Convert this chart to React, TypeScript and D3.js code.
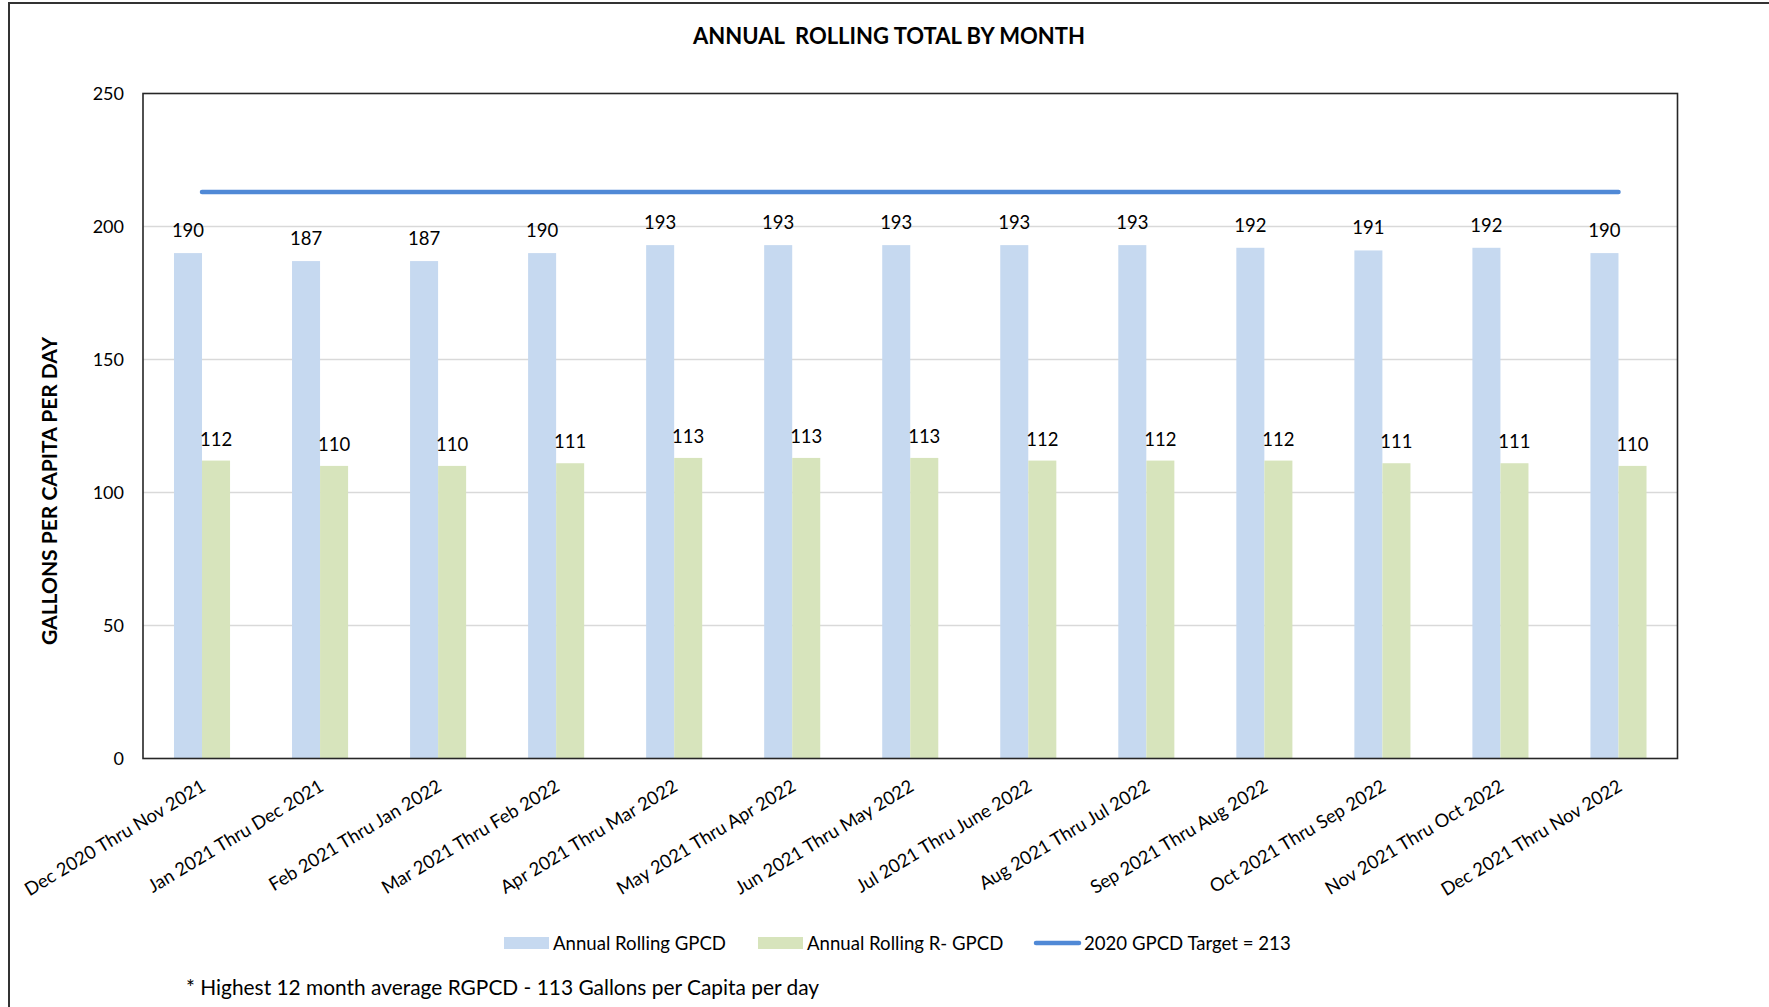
import * as d3 from 'd3';

const categories = [
  'Dec 2020 Thru Nov 2021',
  'Jan 2021 Thru Dec 2021',
  'Feb 2021 Thru Jan 2022',
  'Mar 2021 Thru Feb 2022',
  'Apr 2021 Thru Mar 2022',
  'May 2021 Thru Apr 2022',
  'Jun 2021 Thru May 2022',
  'Jul 2021 Thru June 2022',
  'Aug 2021 Thru Jul 2022',
  'Sep 2021 Thru Aug 2022',
  'Oct 2021 Thru Sep 2022',
  'Nov 2021 Thru Oct 2022',
  'Dec 2021 Thru Nov 2022',
];
const gpcd = [190, 187, 187, 190, 193, 193, 193, 193, 193, 192, 191, 192, 190];
const rGpcd = [112, 110, 110, 111, 113, 113, 113, 112, 112, 112, 111, 111, 110];
const target = 213;
const yTicks = [0, 50, 100, 150, 200, 250];
const seriesNames = ['Annual Rolling GPCD', 'Annual Rolling R- GPCD', '2020 GPCD Target = 213'];

const W = 1769;
const H = 1007;
const plot = { left: 143, top: 93.5, right: 1677.5, bottom: 758.5 };
const font = 'Lato, "Open Sans", sans-serif';
const blue = '#C6D9F0';
const green = '#D7E4BC';
const lineBlue = '#5089D6';

function App() {
  const x = d3
    .scaleBand()
    .domain(categories)
    .range([plot.left, plot.right])
    .paddingInner(0.525)
    .paddingOuter(0.2625);
  const bw = x.bandwidth() / 2;
  const y = d3.scaleLinear().domain([0, 250]).range([plot.bottom, plot.top]);

  const targetLine = d3
    .line<string>()
    .x((d) => (x(d) as number) + bw)
    .y(() => y(target));

  return (
    <svg width={W} height={H} style={{ position: 'absolute', left: 0, top: 0, background: '#fff' }} fontFamily={font}>
      <rect x={0} y={0} width={W} height={H} fill="#fff" />
      <rect x={9} y={3} width={W + 50} height={H + 50} fill="none" stroke="#333" strokeWidth={2} />

      <text x={889} y={43.5} textAnchor="middle" fontWeight="bold" fontSize={22} style={{ whiteSpace: 'pre' }}>
        {'ANNUAL  ROLLING TOTAL BY MONTH'}
      </text>

      {yTicks.slice(1, -1).map((t) => (
        <line key={t} x1={plot.left} x2={plot.right} y1={y(t)} y2={y(t)} stroke="#D9D9D9" strokeWidth={1.5} />
      ))}

      {yTicks.map((t) => (
        <text key={t} x={124} y={y(t) + 6.5} textAnchor="end" fontSize={18}>
          {t}
        </text>
      ))}

      <text
        transform={`translate(57,491) rotate(-90)`}
        textAnchor="middle"
        fontWeight="bold"
        fontSize={21}
      >
        GALLONS PER CAPITA PER DAY
      </text>

      {categories.map((c, i) => {
        const x0 = x(c) as number;
        return (
          <g key={c}>
            <rect x={x0} y={y(gpcd[i])} width={bw} height={y(0) - y(gpcd[i])} fill={blue} />
            <rect x={x0 + bw} y={y(rGpcd[i])} width={bw} height={y(0) - y(rGpcd[i])} fill={green} />
            <text x={x0 + bw / 2} y={y(gpcd[i]) - 16} textAnchor="middle" fontSize={18.5}>
              {gpcd[i]}
            </text>
            <text x={x0 + bw * 1.5} y={y(rGpcd[i]) - 15} textAnchor="middle" fontSize={18.5}>
              {rGpcd[i]}
            </text>
            <text
              transform={`translate(${x0 + bw - 2},${plot.bottom + 20}) rotate(-31)`}
              textAnchor="end"
              dy="0.72em"
              fontSize={18.4}
            >
              {c}
            </text>
          </g>
        );
      })}

      <path d={targetLine([categories[0], categories[categories.length - 1]]) ?? ''} stroke={lineBlue} strokeWidth={4.5} strokeLinecap="round" fill="none" />

      <rect
        x={plot.left}
        y={plot.top}
        width={plot.right - plot.left}
        height={plot.bottom - plot.top}
        fill="none"
        stroke="#262626"
        strokeWidth={1.6}
      />

      <g fontSize={18.6}>
        <rect x={504} y={937} width={45} height={12} fill={blue} />
        <text x={553} y={949.5}>{seriesNames[0]}</text>
        <rect x={758} y={937} width={45} height={12} fill={green} />
        <text x={807} y={949.5}>{seriesNames[1]}</text>
        <line x1={1036} x2={1079} y1={943} y2={943} stroke={lineBlue} strokeWidth={4.5} strokeLinecap="round" />
        <text x={1084} y={949.5}>{seriesNames[2]}</text>
      </g>

      <text x={186} y={994.5} fontSize={20.9}>
        * Highest 12 month average RGPCD - 113 Gallons per Capita per day
      </text>
    </svg>
  );
}

export default App;
